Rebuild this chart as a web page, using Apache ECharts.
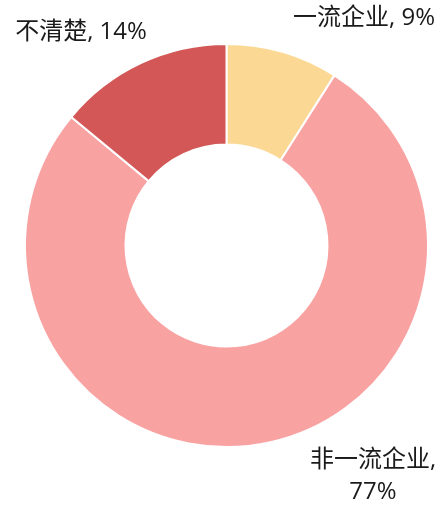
<!DOCTYPE html>
<html>
<head>
<meta charset="utf-8">
<script src="https://cdn.jsdelivr.net/npm/echarts@6/dist/echarts.min.js"></script>
<style>
  html, body { margin: 0; padding: 0; background: #fff; }
  #chart { width: 443px; height: 506px; }
</style>
</head>
<body>
<div id="chart"></div>
<script>
const categories = ["一流企业", "非一流企业", "不清楚"]
const shares = [9, 77, 14]
const colors = ["#FBD894", "#F9A2A2", "#D35757"]

// label spots, picked by hand from the reference
const labelSpots = [
  { x: 364, y: 18 },
  { x: 373, y: 476 },
  { x: 81, y: 32 }
]

const chart = echarts.init(document.getElementById("chart"))

chart.setOption({
  animation: false,
  series: [
    {
      type: "pie",
      center: [226.5, 245.5],
      radius: [101, 201.5],
      startAngle: 90,
      clockwise: true,
      data: categories.map((name, i) => ({
        name: name,
        value: shares[i],
        itemStyle: { color: colors[i] }
      })),
      itemStyle: {
        borderColor: "#fff",
        borderWidth: 2
      },
      label: {
        show: true,
        position: "outside",
        overflow: "none",
        color: "#1a1a1a",
        fontSize: 24,
        lineHeight: 32,
        fontFamily: "'Open Sans', 'Noto Sans CJK SC', sans-serif",
        formatter: (p) => p.dataIndex === 1 ? p.name + ",\n" + p.value + "%" : p.name + ", " + p.value + "%"
      },
      labelLine: { show: false },
      labelLayout: (params) => ({
        x: labelSpots[params.dataIndex].x,
        y: labelSpots[params.dataIndex].y,
        align: "center",
        verticalAlign: "middle"
      }),
      emphasis: { disabled: true }
    }
  ]
})
</script>
</body>
</html>
